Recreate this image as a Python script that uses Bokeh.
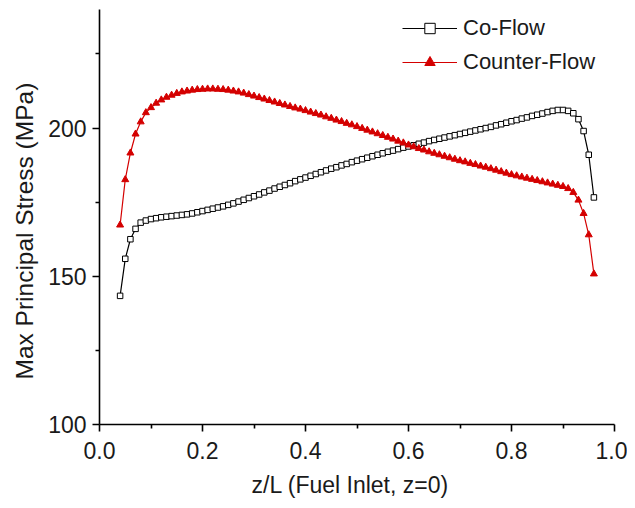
from bokeh.plotting import figure
from bokeh.models import Range1d, FixedTicker, Legend, LegendItem, Title
from bokeh.embed import file_html
from bokeh.resources import INLINE

z_over_L = [round(0.04 + 0.01 * i, 2) for i in range(93)]

co_flow = [
    143.4, 155.9, 162.5, 166.0, 168.1, 168.8, 169.3, 169.6, 169.9, 170.1,
    170.3, 170.5, 170.7, 170.9, 171.2, 171.6, 172.0, 172.4, 172.8, 173.2,
    173.6, 174.1, 174.6, 175.2, 175.8, 176.4, 177.0, 177.6, 178.3, 178.9,
    179.6, 180.2, 180.8, 181.4, 182.1, 182.7, 183.3, 183.9, 184.5, 185.1,
    185.7, 186.3, 186.8, 187.4, 187.9, 188.5, 189.0, 189.5, 190.0, 190.5,
    191.0, 191.5, 192.0, 192.4, 192.9, 193.4, 193.8, 194.2, 194.7, 195.1,
    195.6, 196.0, 196.4, 196.8, 197.2, 197.6, 198.0, 198.4, 198.8, 199.2,
    199.6, 200.0, 200.4, 200.9, 201.3, 201.8, 202.3, 202.7, 203.2, 203.6,
    204.1, 204.5, 204.9, 205.4, 205.8, 206.1, 206.1, 205.8, 205.0, 203.0,
    199.0, 191.0, 176.6,
]

counter_flow = [
    167.3, 182.6, 191.6, 198.0, 202.1, 205.2, 206.9, 208.4, 209.5, 210.4,
    211.1, 211.7, 212.2, 212.5, 212.8, 213.0, 213.1, 213.2, 213.2, 213.1,
    213.0, 212.8, 212.5, 212.2, 211.8, 211.3, 210.8, 210.3, 209.8, 209.3,
    208.8, 208.3, 207.8, 207.3, 206.8, 206.4, 205.9, 205.4, 204.9, 204.4,
    203.8, 203.3, 202.7, 202.2, 201.6, 201.1, 200.5, 199.9, 199.3, 198.7,
    198.1, 197.5, 196.9, 196.3, 195.6, 195.0, 194.3, 193.7, 193.1, 192.6,
    192.0, 191.5, 191.0, 190.5, 190.0, 189.5, 189.0, 188.6, 188.1, 187.7,
    187.2, 186.8, 186.3, 185.8, 185.3, 184.8, 184.3, 183.9, 183.5, 183.1,
    182.7, 182.3, 181.9, 181.5, 181.1, 180.7, 180.3, 179.6, 178.3, 175.7,
    171.2, 164.0, 150.8,
]

x_ticks = [0.0, 0.2, 0.4, 0.6, 0.8, 1.0]
x_tick_labels = ["0.0", "0.2", "0.4", "0.6", "0.8", "1.0"]
x_minor = [0.1, 0.3, 0.5, 0.7, 0.9]
y_ticks = [100, 150, 200]
y_minor = [125, 175, 225]
x_title = "z/L (Fuel Inlet, z=0)"
y_title = "Max Principal Stress (MPa)"

FONT = "Liberation Sans"
RED = "#d40000"
TXT = "#1a1a1a"

p = figure(width=627, height=506, output_backend="svg", toolbar_location=None,
           x_range=Range1d(0, 1.0), y_range=Range1d(100, 240),
           min_border_left=98, min_border_right=13, min_border_top=9,
           min_border_bottom=78)
p.outline_line_color = None
p.xgrid.visible = False
p.ygrid.visible = False
p.background_fill_color = "white"

l1 = p.line(z_over_L, co_flow, line_color="black", line_width=1.2)
s1 = p.scatter(z_over_L, co_flow, marker="square", size=5.5,
               line_color="black", fill_color="white", line_width=1)
l2 = p.line(z_over_L, counter_flow, line_color=RED, line_width=1.2)
s2 = p.scatter(z_over_L, counter_flow, marker="triangle", size=7,
               line_color=RED, fill_color=RED, line_width=1)

for ax in (p.xaxis[0], p.yaxis[0]):
    ax.axis_line_width = 1.6
    ax.axis_line_color = "black"
    ax.major_tick_line_width = 1.6
    ax.minor_tick_line_width = 1.6
    ax.major_tick_in = 0
    ax.major_tick_out = 7
    ax.minor_tick_in = 0
    ax.minor_tick_out = 4
    ax.major_label_text_font = FONT
    ax.major_label_text_font_size = "23px"
    ax.major_label_text_color = TXT

p.xaxis.ticker = FixedTicker(ticks=x_ticks, minor_ticks=x_minor)
p.xaxis.major_label_overrides = {t: s for t, s in zip(x_ticks, x_tick_labels)}
p.xaxis.major_label_standoff = 10
p.yaxis.ticker = FixedTicker(ticks=y_ticks, minor_ticks=y_minor)
p.yaxis.major_label_standoff = 6

xt = Title(text=x_title, align="left", offset=152, standoff=17,
           text_font=FONT, text_font_size="23px", text_font_style="normal",
           text_color=TXT)
yt = Title(text=y_title, align="left", offset=45, standoff=16,
           text_font=FONT, text_font_size="24.5px", text_font_style="normal",
           text_color=TXT)
p.add_layout(xt, "below")
p.add_layout(yt, "left")

legend = Legend(items=[
    LegendItem(label="Co-Flow", renderers=[l1, s1]),
    LegendItem(label="Counter-Flow", renderers=[l2, s2]),
], location=(303, 349))
legend.border_line_color = None
legend.background_fill_alpha = 0
legend.padding = 0
legend.margin = 0
legend.spacing = 8
legend.glyph_width = 55
legend.glyph_height = 26
legend.label_height = 26
legend.label_standoff = 6
legend.label_text_font = FONT
legend.label_text_font_size = "22px"
legend.label_text_color = TXT
p.add_layout(legend, "center")

open("out.html", "w").write(file_html(p, INLINE))
